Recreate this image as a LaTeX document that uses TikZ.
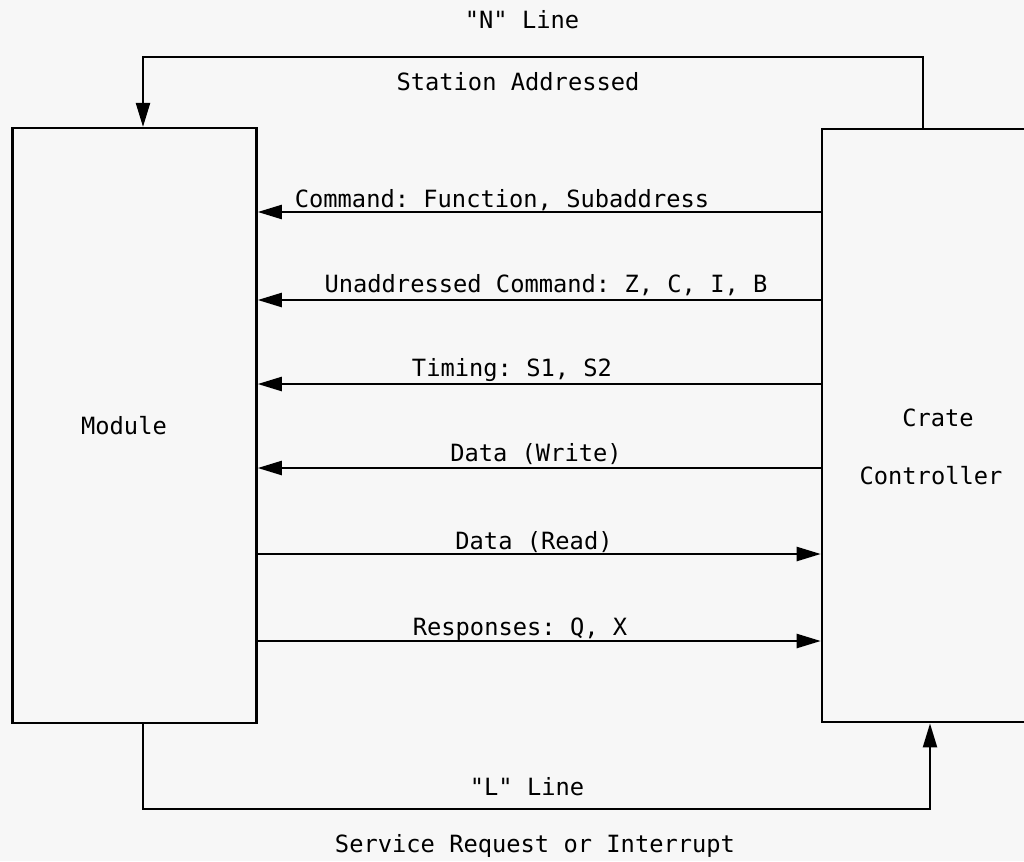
\documentclass[tikz,border=0pt]{standalone}
\usepackage{fontspec}
\setmonofont{DejaVu Sans Mono}
\usepackage{tikz}
\usetikzlibrary{arrows.meta,calc}

\tikzset{
  unit/.style={draw,line width=1.9pt,rectangle,inner sep=0pt},
  sig/.style={line width=1.7pt,-{Triangle[length=18pt,width=10.5pt]}},
  lbl/.style={anchor=base,inner sep=0.75pt,font=\ttfamily\fontsize{17.8}{20}\selectfont},
}

\begin{document}
\begin{tikzpicture}[x=0.75pt,y=0.75pt,yscale=-1,xscale=1]
\useasboundingbox (0,0) rectangle (1024,861);
\clip (0,0) rectangle (1024,861);
\fill[black!3] (0,0) rectangle (1024,861);

%Boxes
\node [unit,minimum width=183pt,minimum height=446pt] (mod) at (134.5,425.5) {};
\node [unit,minimum width=225pt,minimum height=445pt] (cc) at (972,425.5) {};

%Ends of the signal lines
\coordinate (cmd) at (822,212);
\coordinate (unad) at (822,300);
\coordinate (tim) at (822,384);
\coordinate (wr) at (822,468);
\coordinate (rd) at (257,554);
\coordinate (resp) at (257,641);

%Module <- Crate Controller
\draw [sig] (cmd) -- (cmd -| mod.east);
\draw [sig] (unad) -- (unad -| mod.east);
\draw [sig] (tim) -- (tim -| mod.east);
\draw [sig] (wr) -- (wr -| mod.east);
%Module -> Crate Controller
\draw [sig] (rd) -- (rd -| cc.west);
\draw [sig] (resp) -- (resp -| cc.west);

%"N" line
\coordinate (ntop) at (923,57);
\coordinate (nleft) at (143,57);
\draw [sig] (ntop |- cc.north) -- (ntop) -- (nleft) -- (nleft |- mod.north);
%"L" line
\coordinate (lleft) at (143,809);
\coordinate (lright) at (930,809);
\draw [sig] (lleft |- mod.south) -- (lleft) -- (lright) -- (lright |- cc.south);

% Text Node
\node [lbl] (nl) at (522,28) {"N" Line};
\node [lbl] (sa) at (518,90) {Station Addressed};
\node [lbl] (tcmd) at (502,207) {Command: Function, Subaddress};
\node [lbl] (tunad) at (546,292) {Unaddressed Command: Z, C, I, B};
\node [lbl] (ttim) at (512,376) {Timing: S1, S2};
\node [lbl] (twr) at (536,461) {Data (Write)};
\node [lbl] (trd) at (534,549) {Data (Read)};
\node [lbl] (tresp) at (520,635) {Responses: Q, X};
\node [lbl] (tmod) at (124,434) {Module};
\node [lbl] (tcr) at (938,426) {Crate};
\node [lbl] (tctl) at (931,484) {Controller};
\node [lbl] (ll) at (527,795) {"L" Line};
\node [lbl] (sr) at (535,852) {Service Request or Interrupt};

\end{tikzpicture}
\end{document}
